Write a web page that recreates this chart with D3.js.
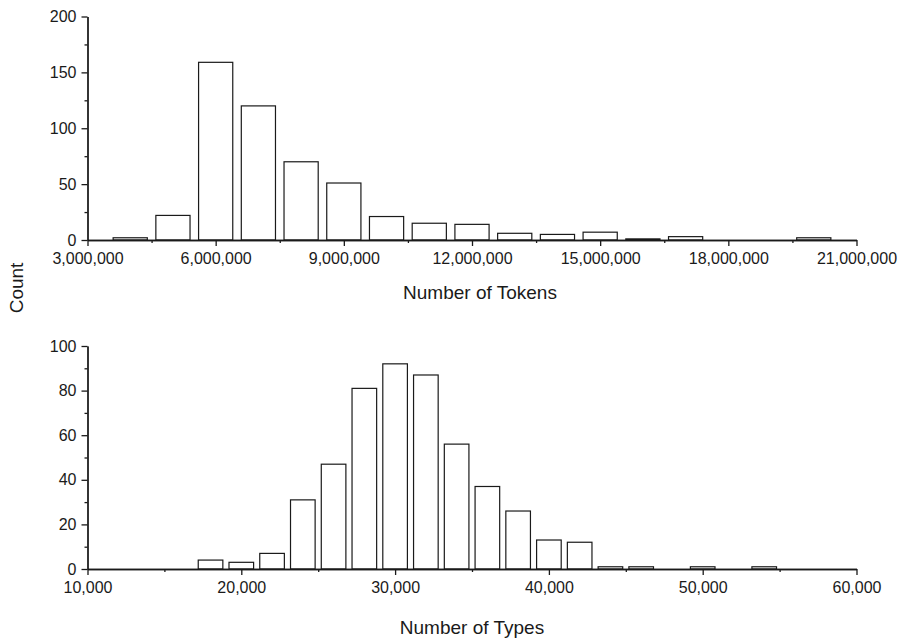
<!DOCTYPE html>
<html>
<head>
<meta charset="utf-8">
<script src="https://cdn.jsdelivr.net/npm/d3@7"></script>
<style>
  html, body { margin: 0; padding: 0; background: #fff; }
  svg { display: block; }
  svg text { font-family: "Liberation Sans", Arial, sans-serif; }
</style>
</head>
<body>
<svg id="chart" width="900" height="640"></svg>
<script>
// Histogram of tokens per text: bin centres (1,000,000 wide) and counts
const tokenBins   = [4e6, 5e6, 6e6, 7e6, 8e6, 9e6, 10e6, 11e6, 12e6, 13e6, 14e6, 15e6, 16e6, 17e6, 18e6, 19e6, 20e6];
const tokenCounts = [2, 22, 159, 120, 70, 51, 21, 15, 14, 6, 5, 7, 1, 3, 0, 0, 2];
const tokenXTicks = [3e6, 6e6, 9e6, 12e6, 15e6, 18e6, 21e6];
const tokenYTicks = [0, 50, 100, 150, 200];

// Histogram of types per text: bin centres (2,000 wide) and counts
const typeBins   = [18000, 20000, 22000, 24000, 26000, 28000, 30000, 32000, 34000, 36000, 38000, 40000, 42000, 44000, 46000, 48000, 50000, 52000, 54000];
const typeCounts = [4, 3, 7, 31, 47, 81, 92, 87, 56, 37, 26, 13, 12, 1, 1, 0, 1, 0, 1];
const typeXTicks = [10000, 20000, 30000, 40000, 50000, 60000];
const typeYTicks = [0, 20, 40, 60, 80, 100];

const svg = d3.select("#chart");
const ink = "#1a1a1a";
const fmt = d3.format(",");
const fontFamily = '"Liberation Sans", Arial, sans-serif';

function histogram(opts) {
  const x = d3.scaleLinear().domain(opts.xDomain).range([87.5, 856.5]);
  const y = d3.scaleLinear().domain(opts.yDomain).range([opts.bottom, opts.top]);
  const g = svg.append("g");

  // bars
  const half = opts.binWidth * 0.4;
  g.selectAll("rect.bar")
    .data(opts.bins.map((b, i) => ({ c: b, v: opts.counts[i] })).filter(d => d.v > 0))
    .join("rect")
    .attr("class", "bar")
    .attr("x", d => x(d.c - half))
    .attr("width", d => x(d.c + half) - x(d.c - half))
    .attr("y", d => y(d.v))
    .attr("height", d => y(0) - y(d.v))
    .attr("fill", "#fff")
    .attr("stroke", ink)
    .attr("stroke-width", 1.2);

  // minor ticks (halfway between majors)
  const xStep = opts.xTicks[1] - opts.xTicks[0];
  const xMinor = opts.xTicks.slice(0, -1).map(t => t + xStep / 2);
  const yStep = opts.yTicks[1] - opts.yTicks[0];
  const yMinor = opts.yTicks.slice(0, -1).map(t => t + yStep / 2);

  const xMinorAxis = d3.axisBottom(x).tickValues(xMinor).tickSize(3).tickSizeOuter(0).tickFormat("");
  const yMinorAxis = d3.axisLeft(y).tickValues(yMinor).tickSize(3).tickSizeOuter(0).tickFormat("");
  const xAxis = d3.axisBottom(x).tickValues(opts.xTicks).tickSizeInner(6).tickSizeOuter(0).tickPadding(7).tickFormat(fmt);
  const yAxis = d3.axisLeft(y).tickValues(opts.yTicks).tickSizeInner(6).tickSizeOuter(0).tickPadding(5).tickFormat(fmt);

  const axes = [
    g.append("g").attr("transform", `translate(0,${y(0)})`).call(xMinorAxis),
    g.append("g").attr("transform", `translate(87.5,0)`).call(yMinorAxis),
    g.append("g").attr("transform", `translate(0,${y(0)})`).call(xAxis),
    g.append("g").attr("transform", `translate(87.5,0)`).call(yAxis)
  ];
  axes.forEach(a => {
    a.attr("font-family", fontFamily);
    a.select(".domain").attr("stroke", ink).attr("stroke-width", 1.3);
    a.selectAll(".tick line").attr("stroke", ink).attr("stroke-width", 1.3);
    a.selectAll(".tick text").attr("fill", ink).style("font-size", "16px");
  });

  // axis title
  g.append("text")
    .attr("x", opts.titleX)
    .attr("y", opts.titleY)
    .attr("text-anchor", "middle")
    .attr("fill", ink)
    .style("font-size", "19px")
    .text(opts.title);
}

histogram({
  bins: tokenBins, counts: tokenCounts, binWidth: 1e6,
  xDomain: [3e6, 21e6], yDomain: [0, 200],
  xTicks: tokenXTicks, yTicks: tokenYTicks,
  top: 16.5, bottom: 240,
  title: "Number of Tokens", titleX: 480, titleY: 299
});

histogram({
  bins: typeBins, counts: typeCounts, binWidth: 2000,
  xDomain: [10000, 60000], yDomain: [0, 100],
  xTicks: typeXTicks, yTicks: typeYTicks,
  top: 346, bottom: 569,
  title: "Number of Types", titleX: 472, titleY: 634
});

// shared y-axis title
svg.append("text")
  .attr("transform", "translate(22.5,288) rotate(-90)")
  .attr("text-anchor", "middle")
  .attr("fill", ink)
  .style("font-size", "19px")
  .text("Count");
</script>
</body>
</html>
